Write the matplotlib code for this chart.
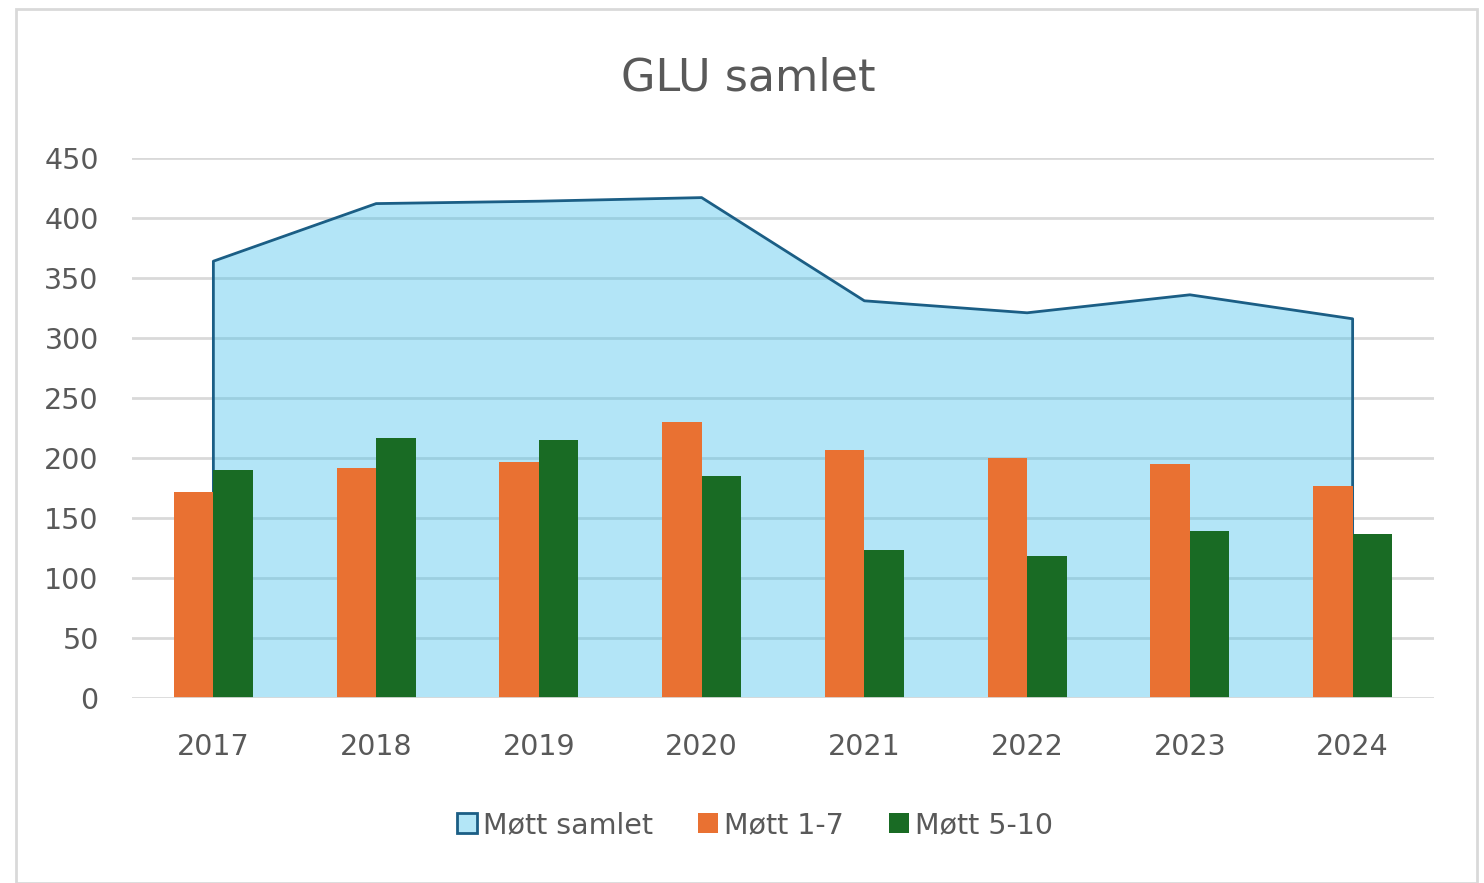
import matplotlib
matplotlib.use("Agg")
import matplotlib.pyplot as plt
from matplotlib.patches import Rectangle, Patch
import numpy as np

years = ["2017", "2018", "2019", "2020", "2021", "2022", "2023", "2024"]
mott_samlet = [364, 412, 414, 417, 331, 321, 336, 316]
mott_1_7 = [172, 192, 197, 230, 207, 200, 195, 177]
mott_5_10 = [190, 217, 215, 185, 123, 118, 139, 137]

W, H = 1484, 883
fig = plt.figure(figsize=(W / 100, H / 100), dpi=100)
fig.patch.set_facecolor("white")
fig.patches.append(Rectangle((16 / W, 0), (1477 - 16) / W, (H - 9) / H,
                             transform=fig.transFigure, fill=False,
                             edgecolor="#d9d9d9", linewidth=2))

ax = fig.add_axes([132 / W, (H - 698) / H, (1434 - 132) / W, (698 - 158) / H])
ax.set_xlim(-0.5, 7.5)
ax.set_ylim(0, 450)

x = np.arange(len(years))
txt = "#595959"

# gridlines
for v in range(50, 451, 50):
    ax.axhline(v, color="#d9d9d9", linewidth=2, zorder=0)
ax.axhline(0, color="#d9d9d9", linewidth=2, zorder=4)

# area
ax.fill_between(x, mott_samlet, 0, facecolor="#41c0eb", alpha=0.4, linewidth=0, zorder=1)
ax.plot(np.concatenate([[x[0]], x, [x[-1]]]),
        np.concatenate([[0], mott_samlet, [0]]),
        color="#1b5e85", linewidth=2, zorder=2)

bw = 0.243
ax.bar(x - bw / 2, mott_1_7, width=bw, color="#e97132", zorder=3)
ax.bar(x + bw / 2, mott_5_10, width=bw, color="#196b24", zorder=3)

for s in ax.spines.values():
    s.set_visible(False)
ax.set_yticks(range(0, 451, 50))
ax.set_xticks(x)
ax.set_xticklabels(years)
ax.tick_params(axis="both", length=0, labelsize=20.5, labelcolor=txt)
ax.tick_params(axis="x", pad=25)
ax.tick_params(axis="y", pad=24)
for lab in ax.get_yticklabels():
    lab.set_horizontalalignment("right")

fig.text(748 / W, 1 - 78 / H, "GLU samlet", ha="center", va="center",
         fontsize=32, color=txt)

handles = [
    Patch(facecolor="#b3e6f7", edgecolor="#1b5e85", linewidth=2, label="Møtt samlet"),
    Patch(facecolor="#e97132", label="Møtt 1-7"),
    Patch(facecolor="#196b24", label="Møtt 5-10"),
]
fig.legend(handles=handles, loc="center", bbox_to_anchor=(755 / W, 1 - 825 / H),
           ncol=3, frameon=False, fontsize=20.5, labelcolor=txt,
           handlelength=0.7, handleheight=0.7, handletextpad=0.2, columnspacing=1.6)

fig.savefig("out.png", dpi=100)
